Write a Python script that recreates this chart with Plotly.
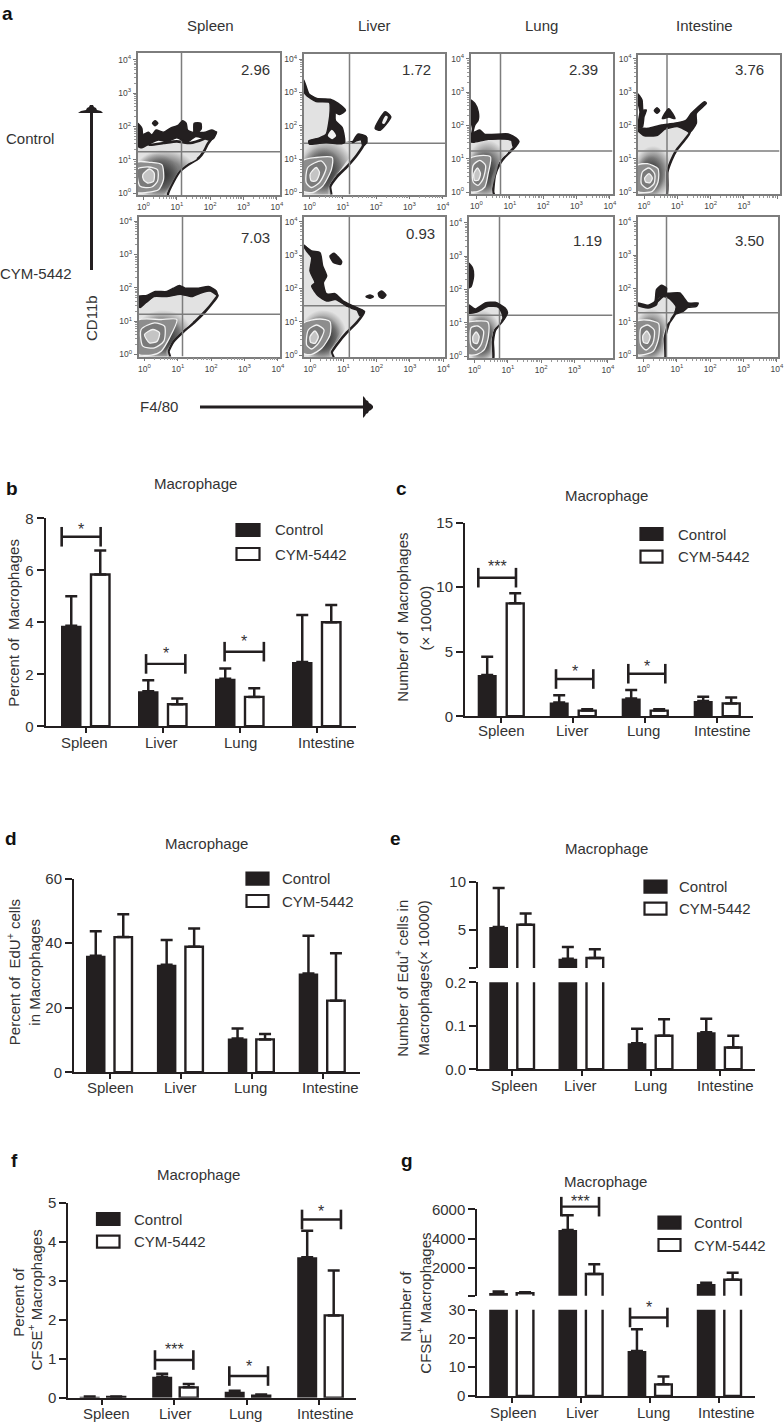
import plotly.graph_objects as go

W, H = 784, 1424
INK = "#231f20"
TXT = "#333333"
FONT = "Liberation Sans, Arial, sans-serif"

CATEGORIES = ["Spleen", "Liver", "Lung", "Intestine"]
SERIES = ["Control", "CYM-5442"]
TICK_VALUES = [0, 1, 2, 3, 4]
TICK_LABELS = ["10<sup>0</sup>", "10<sup>1</sup>", "10<sup>2</sup>", "10<sup>3</sup>", "10<sup>4</sup>"]

# ---- bar values (mean and top of the error bar) ----
B_CTRL = [3.87, 1.35, 1.83, 2.47]
B_CTRL_TOP = [5.0, 1.77, 2.22, 4.28]
B_CYM = [5.84, 0.85, 1.13, 4.0]
B_CYM_TOP = [6.76, 1.07, 1.46, 4.67]
C_CTRL = [3.2, 1.06, 1.37, 1.19]
C_CTRL_TOP = [4.62, 1.63, 2.04, 1.52]
C_CYM = [8.75, 0.44, 0.44, 1.0]
C_CYM_TOP = [9.53, 0.54, 0.54, 1.45]
D_CTRL = [36.1, 33.3, 10.5, 30.6]
D_CTRL_TOP = [43.7, 41.0, 13.6, 42.3]
D_CYM = [41.9, 38.9, 10.2, 22.2]
D_CYM_TOP = [49.0, 44.6, 11.9, 36.9]
E_CTRL = [5.31, 2.03, 0.06, 0.085]
E_CTRL_TOP = [9.34, 3.24, 0.093, 0.116]
E_CYM = [5.55, 2.1, 0.077, 0.05]
E_CYM_TOP = [6.72, 3.0, 0.115, 0.077]
F_CTRL = [0.02, 0.54, 0.15, 3.6]
F_CTRL_TOP = [0.03, 0.615, 0.18, 4.28]
F_CYM = [0.02, 0.265, 0.05, 2.11]
F_CYM_TOP = [0.03, 0.35, 0.08, 3.26]
G_CTRL = [300, 4590, 15.6, 910]
G_CTRL_TOP = [390, 5590, 23.2, 1000]
G_CYM = [290, 1590, 4.05, 1200]
G_CYM_TOP = [340, 2250, 6.8, 1680]

# ---- flow gates and percentages ----
FLOW_PERCENT = ["2.96", "1.72", "2.39", "3.76", "7.03", "0.93", "1.19", "3.50"]
GATE_X = [1.14, 1.20, 0.72, 0.69, 1.14, 1.18, 0.75, 0.69]
GATE_Y = [1.24, 1.48, 1.23, 1.23, 1.21, 1.48, 1.22, 1.27]

# ---- flow contours, in decades ----
SPC_BODY = [(-.2,1.55),(.2,1.45),(.6,1.5),(1.0,1.55),(1.4,1.5),(1.8,1.62),(2.18,1.82),(2.05,1.64),(1.92,1.46),(1.82,1.26),(1.65,1.04),(1.35,.86),(1.10,.66),(.90,.34),(.73,-.03),(.73,-.12),(-.2,-.12)]
SPC_MID = [(-.2,1.24),(1.0,1.24),(1.5,1.15),(1.6,1.03),(1.33,.88),(1.07,.66),(.87,.33),(.7,-.03),(.7,-.12),(-.2,-.12)]
SPC_DARK = [(-.2,1.15),(.8,1.1),(1.05,.95),(1.0,.6),(.7,.1),(.55,-.12),(-.2,-.12)]
SPC_RINGS = [[(-.2,.92),(.2,.92),(.55,.85),(.6,.4),(.45,.1),(.1,.02),(-.2,.02)],
             [(-.18,.72),(.15,.78),(.42,.7),(.42,.35),(.25,.18),(-.1,.2)],
             [(-.02,.55),(.18,.72),(.32,.6),(.3,.35),(.12,.3),(0,.4)]]
SPC_BLACK = [[(-.18,2.09),(-.05,1.94),(-.02,1.76),(.15,1.82),(.25,1.74),(.38,1.89),(.6,1.82),(.8,1.94),(1.05,2.04),(1.17,2.17),(1.28,2.09),(1.32,1.89),(1.5,1.82),(1.52,2.09),(1.72,2.09),(1.73,1.92),(1.65,1.82),(1.85,1.82),(2.05,1.89),(2.18,1.82),(2.10,1.64),(1.95,1.59),(1.75,1.66),(1.55,1.69),(1.30,1.52),(1.0,1.66),(.7,1.54),(.45,1.59),(.2,1.49),(-.05,1.36),(-.18,1.41)],
             [(.27,2.09),(.35,2.17),(.43,2.09),(.35,2.02)]]
SPC_HOLES = []

LVC_BODY = [(-.2,3.4),(-.03,2.94),(.22,2.77),(.62,2.74),(.75,2.4),(.7,2.0),(.55,1.6),(.2,1.52),(1.32,1.52),(1.47,1.72),(1.7,1.64),(1.62,1.42),(1.42,1.12),(1.12,.77),(.82,.47),(.62,.17),(.65,-.12),(-.2,-.12)]
LVC_MID = [(-.2,1.48),(1.3,1.48),(1.3,1.2),(1.05,.85),(.8,.5),(.6,.2),(.62,-.12),(-.2,-.12)]
LVC_DARK = [(-.2,1.3),(.9,1.25),(1.0,.9),(.75,.5),(.55,.1),(.55,-.12),(-.2,-.12)]
LVC_RINGS = [[(-.2,.95),(.2,1.05),(.68,1.05),(.66,.7),(.4,.2),(.1,.0),(-.2,.05)],
             [(-.05,.75),(.35,.95),(.5,.75),(.3,.3),(.05,.15),(-.1,.3)],
             [(.02,.55),(.2,.75),(.3,.6),(.2,.35),(.05,.35)]]
LVC_BLACK = [[(-.2,3.4),(-.05,2.98),(.22,2.82),(.62,2.8),(.85,2.68),(1.08,2.46),(.9,2.34),(.76,2.4),(.78,2.15),(.98,1.95),(1.05,1.5),(.9,1.46),(.5,1.5),(0,1.45),(-.02,1.55),(.3,1.64),(.5,1.75),(.58,2.1),(.62,2.45),(.6,2.7),(.2,2.73),(-.08,2.9),(-.2,3.1)],
             [(1.3,1.5),(1.45,1.75),(1.7,1.68),(1.72,1.5),(1.6,1.4),(1.55,1.58),(1.4,1.55)],
             [(1.97,1.92),(2.27,2.42),(2.44,2.27),(2.12,1.87)]]
LVC_HOLES = [[(.55,1.7),(.67,1.88),(.8,1.7),(.68,1.6)], [(2.18,2.08),(2.28,2.3),(2.35,2.27),(2.25,2.06)]]

LUC_BODY = [(-.2,1.6),(.4,1.6),(.85,1.62),(1.25,1.5),(1.1,1.3),(.85,1.05),(.7,.85),(.55,.5),(.5,.0),(.53,-.12),(-.2,-.12)]
LUC_MID = [(-.2,1.5),(.8,1.45),(.95,1.2),(.7,.95),(.6,.6),(.47,.1),(.47,-.12),(-.2,-.12)]
LUC_DARK = [(-.2,1.25),(.65,1.2),(.6,.85),(.45,.4),(.42,-.12),(-.2,-.12)]
LUC_RINGS = [[(-.2,1.0),(.2,1.1),(.42,1.05),(.35,.55),(.25,.15),(.05,.02),(-.2,.02)],
             [(-.1,.8),(.1,.95),(.27,.8),(.2,.4),(.05,.2),(-.1,.3)],
             [(-.08,.55),(.03,.72),(.12,.55),(.05,.35),(-.06,.35)]]
LUC_BLACK = [[(-.18,2.76),(-.05,2.66),(.05,2.41),(.05,2.16),(-.05,2.01),(-.1,1.79),(.1,1.86),(.25,1.73),(.95,1.74),(1.2,1.61),(1.27,1.51),(1.1,1.36),(1.05,1.56),(.85,1.59),(.35,1.58),(-.1,1.49),(-.18,1.51),(-.12,1.9),(-.18,2.2)]]
LUC_HOLES = []

INC_BODY = [(-.2,1.85),(.02,1.7),(.4,1.72),(.62,1.9),(1.0,1.98),(1.37,1.79),(1.17,1.5),(.97,1.25),(.82,.95),(.7,.6),(.67,-.12),(-.2,-.12)]
INC_MID = [(-.2,1.3),(.85,1.3),(.75,.95),(.65,.6),(.62,-.12),(-.2,-.12)]
INC_DARK = [(-.2,1.05),(.55,1.05),(.58,.6),(.55,-.12),(-.2,-.12)]
INC_RINGS = [[(-.2,.8),(.1,.85),(.42,.7),(.42,.3),(.25,.02),(-.2,.02)],
             [(-.05,.6),(.15,.72),(.32,.55),(.3,.25),(.1,.1),(-.08,.25)],
             [(.02,.42),(.15,.55),(.25,.42),(.18,.28),(.05,.3)]]
INC_BLACK = [[(-.18,1.91),(.12,1.91),(.52,2.01),(.92,2.06),(1.27,2.16),(1.42,2.36),(1.82,2.71),(1.87,2.66),(1.57,2.36),(1.57,2.06),(1.37,1.79),(1.22,1.91),(1.02,2.01),(.62,1.93),(.37,1.73),(.02,1.71),(-.18,1.86)],
             [(-.2,2.96),(-.06,2.76),(-.03,2.46),(.07,2.46),(0,2.26),(-.05,1.95),(-.18,1.95),(-.12,2.4),(-.18,2.7)],
             [(.31,2.44),(.39,2.53),(.47,2.44),(.39,2.36)],
             [(.55,2.2),(.74,2.5),(.93,2.2),(.75,2.25)]]
INC_HOLES = []

SPT_BODY = [(-.2,1.5),(.07,1.6),(.32,1.8),(.67,1.8),(1.07,1.9),(1.42,1.85),(1.92,1.95),(2.19,1.77),(2.07,1.59),(1.82,1.29),(1.52,.99),(1.17,.69),(.87,.39),(.72,.09),(.77,-.12),(-.2,-.12)]
SPT_MID = [(-.2,1.25),(1.3,1.22),(1.45,1.0),(1.15,.72),(.85,.42),(.7,.1),(.74,-.12),(-.2,-.12)]
SPT_DARK = [(-.2,1.05),(1.05,1.1),(1.2,.78),(.9,.45),(.65,.1),(.68,-.12),(-.2,-.12)]
SPT_RINGS = [[(-.2,1.02),(.5,1.05),(.97,1.05),(.75,.5),(.5,.1),(.2,-.02),(-.2,.02)],
             [(-.1,.75),(.3,.95),(.6,.85),(.58,.4),(.3,.2),(-.05,.25)],
             [(.0,.6),(.25,.75),(.45,.65),(.38,.4),(.15,.35)]]
SPT_BLACK = [[(-.18,1.74),(.07,1.77),(.32,1.89),(.67,1.89),(.87,1.99),(1.05,2.07),(1.22,1.99),(1.39,1.99),(1.62,1.99),(1.92,2.04),(2.15,1.91),(2.19,1.77),(2.02,1.91),(1.67,1.84),(1.42,1.74),(1.07,1.81),(.67,1.74),(.27,1.74),(.02,1.54),(-.13,1.41),(-.18,1.44)]]
SPT_HOLES = []

LVT_BODY = [(-.2,3.29),(.05,3.0),(.2,2.5),(.35,1.9),(.75,1.7),(1.3,1.4),(1.62,1.3),(1.4,.97),(1.1,.67),(.85,.37),(.65,.07),(.72,-.12),(-.2,-.12)]
LVT_MID = [(-.2,1.3),(1.0,1.2),(1.1,.9),(.85,.45),(.62,.12),(.68,-.12),(-.2,-.12)]
LVT_DARK = [(-.2,1.15),(.75,1.1),(.95,.85),(.75,.4),(.58,.1),(.6,-.12),(-.2,-.12)]
LVT_RINGS = [[(-.2,.95),(.3,1.08),(.6,1.0),(.6,.6),(.35,.2),(.05,.02),(-.2,.05)],
             [(-.05,.75),(.2,.9),(.42,.75),(.25,.35),(.05,.18),(-.1,.3)],
             [(.0,.55),(.15,.72),(.25,.55),(.15,.35),(.02,.38)]]
LVT_BLACK = [[(-.2,3.29),(.05,3.12),(.3,3.07),(.38,2.67),(.5,2.37),(.4,2.17),(.5,1.82),(.75,1.84),(1.0,1.62),(1.3,1.47),(1.6,1.32),(1.5,1.17),(1.4,1.37),(1.1,1.47),(.8,1.67),(.5,1.62),(.25,1.77),(.05,2.07),(.15,2.17),(0,2.52),(.05,2.92),(-.1,3.12)],
             [(.6,2.97),(.72,3.05),(.95,2.8),(.92,2.72),(.7,2.78)],
             [(1.68,1.75),(1.8,1.8),(1.9,1.75),(1.8,1.7)],
             [(2.05,1.85),(2.15,1.92),(2.28,1.8),(2.18,1.7),(2.08,1.75)]]
LVT_HOLES = []

LUT_BODY = [(-.2,1.4),(.05,1.35),(.4,1.55),(.72,1.52),(.95,1.3),(.85,1.08),(.62,.78),(.55,.43),(.55,-.12),(-.2,-.12)]
LUT_MID = [(-.2,1.3),(.7,1.3),(.8,1.05),(.58,.78),(.5,.4),(.5,-.12),(-.2,-.12)]
LUT_DARK = [(-.2,1.15),(.6,1.1),(.6,.8),(.45,.4),(.45,-.12),(-.2,-.12)]
LUT_RINGS = [[(-.2,1.0),(.05,1.05),(.4,1.02),(.42,.6),(.3,.2),(.08,.05),(-.2,.05)],
             [(-.1,.85),(.1,.9),(.27,.75),(.2,.35),(.05,.18),(-.1,.3)],
             [(-.05,.58),(.05,.72),(.14,.58),(.08,.38),(-.03,.4)]]
LUT_BLACK = [[(-.18,1.54),(.02,1.41),(.32,1.59),(.62,1.61),(.92,1.44),(.99,1.29),(.87,1.09),(.84,1.24),(.72,1.46),(.42,1.49),(.07,1.32),(-.18,1.29)],
             [(-.18,2.79),(-.06,2.64),(-.03,2.39),(-.1,2.09),(-.18,2.04)]]
LUT_HOLES = []

INT_BODY = [(-.2,1.5),(.14,1.45),(.4,1.6),(.6,1.77),(.8,1.7),(1.0,1.45),(.94,1.22),(.76,.95),(.64,.5),(.64,-.12),(-.2,-.12)]
INT_MID = [(-.2,1.3),(.75,1.3),(.8,1.05),(.68,.9),(.58,.5),(.58,-.12),(-.2,-.12)]
INT_DARK = [(-.2,1.1),(.55,1.1),(.6,.85),(.52,.4),(.52,-.12),(-.2,-.12)]
INT_RINGS = [[(-.2,1.0),(.1,1.05),(.45,.95),(.45,.5),(.3,.12),(.05,.02),(-.2,.02)],
             [(-.08,.8),(.12,.9),(.32,.75),(.28,.35),(.08,.15),(-.08,.3)],
             [(-.02,.58),(.1,.72),(.2,.55),(.12,.35),(.0,.38)]]
INT_BLACK = [[(-.18,1.56),(.14,1.49),(.34,1.61),(.39,1.96),(.54,2.09),(.69,2.01),(.69,1.86),(1.09,1.86),(1.34,1.56),(1.64,1.56),(1.59,1.46),(1.34,1.43),(1.19,1.31),(.94,1.23),(.99,1.46),(.79,1.73),(.59,1.79),(.44,1.71),(.39,1.51),(.14,1.41),(-.18,1.49)]]
INT_HOLES = []

FLOW_POLYS = [
    (SPC_BODY, SPC_MID, SPC_DARK, SPC_RINGS, SPC_BLACK, SPC_HOLES),
    (LVC_BODY, LVC_MID, LVC_DARK, LVC_RINGS, LVC_BLACK, LVC_HOLES),
    (LUC_BODY, LUC_MID, LUC_DARK, LUC_RINGS, LUC_BLACK, LUC_HOLES),
    (INC_BODY, INC_MID, INC_DARK, INC_RINGS, INC_BLACK, INC_HOLES),
    (SPT_BODY, SPT_MID, SPT_DARK, SPT_RINGS, SPT_BLACK, SPT_HOLES),
    (LVT_BODY, LVT_MID, LVT_DARK, LVT_RINGS, LVT_BLACK, LVT_HOLES),
    (LUT_BODY, LUT_MID, LUT_DARK, LUT_RINGS, LUT_BLACK, LUT_HOLES),
    (INT_BODY, INT_MID, INT_DARK, INT_RINGS, INT_BLACK, INT_HOLES),
]

# frame left, right, top, bottom (pixels)
FLOW_FRAMES = [(137.5, 280, 52.5, 195), (303.5, 445, 54, 194.5), (470.5, 612.5, 53.5, 194), (638, 779.5, 54.5, 194),
               (138.5, 280, 216.5, 356.5), (304, 445, 216.5, 357), (468.5, 612.5, 216.5, 358), (637.5, 778, 216.5, 357)]
FLOW_TEXT_XY = [(255, 69.5), (416.7, 69.5), (583, 69), (749.3, 69), (255.5, 237.3), (420, 234), (587.7, 240.7), (749.3, 240.7)]


def px(x):
    return x / W


def py(y):
    return 1 - y / H


traces, annots, shapes, layout = [], [], [], {}
axis_count = [0]


def note(text, x, y, size=15, color=TXT, angle=0, bold=False):
    annots.append(dict(text=f"<b>{text}</b>" if bold else text, x=px(x), y=py(y), xref="paper", yref="paper",
                       showarrow=False, xanchor="center", yanchor="middle", textangle=angle,
                       font=dict(size=size, color=color, family=FONT)))


def new_axes(x0, x1, y_top, y_bot, xaxis, yaxis):
    axis_count[0] += 1
    n = axis_count[0]
    s = "" if n == 1 else str(n)
    layout["xaxis" + s] = dict(domain=[px(x0), px(x1)], anchor="y" + s, fixedrange=True, showgrid=False, zeroline=False,
                               automargin=False, **xaxis)
    layout["yaxis" + s] = dict(domain=[py(y_bot), py(y_top)], anchor="x" + s, fixedrange=True, showgrid=False, zeroline=False,
                               automargin=False, **yaxis)
    return "x" + s, "y" + s


def poly(xr, yr, pts, fill, line=None, width=0, smooth=0.7, gradient=None):
    closed = list(pts) + [pts[0]]
    extra = dict(fillgradient=dict(type="radial", colorscale=gradient)) if gradient else dict(fillcolor=fill)
    traces.append(go.Scatter(x=[p[0] for p in closed], y=[p[1] for p in closed], xaxis=xr, yaxis=yr, mode="lines",
                             fill="toself", hoverinfo="skip", showlegend=False,
                             line=dict(color=line or "rgba(0,0,0,0)", width=width, shape="spline", smoothing=smooth), **extra))


# ---- flow panels ----
MINOR = [k + m for k in range(4) for m in (0.30, 0.48, 0.60, 0.70, 0.78, 0.85, 0.90, 0.95)]
for i, (fr, polys) in enumerate(zip(FLOW_FRAMES, FLOW_POLYS)):
    l, r, t, b = fr
    ax = dict(showline=True, mirror=True, linecolor="#7d7d7d", linewidth=1.6, ticks="outside", ticklen=3, tickwidth=1,
              tickcolor="#777777", tickvals=TICK_VALUES, ticktext=TICK_LABELS,
              tickfont=dict(size=8.5, color="#444444", family=FONT),
              minor=dict(tickvals=MINOR, ticks="outside", ticklen=2, tickcolor="#999999", tickwidth=1))
    xr, yr = new_axes(l, r, t, b, dict(range=[-0.18, -0.18 + (r - l) / 33.33], **ax),
                      dict(range=[-0.06, -0.06 + (b - t) / 33.33], **ax))
    body, mid, dark, rings, black, holes = polys
    poly(xr, yr, body, "#e2e2e2", INK, 2.6, 0.5)
    poly(xr, yr, mid, "#b5b5b5", gradient=[[0, "rgb(75,75,75)"], [0.55, "rgb(130,130,130)"], [1, "rgb(226,226,226)"]])
    poly(xr, yr, dark, "#5c5c5c", gradient=[[0, "rgba(40,40,40,0.95)"], [1, "rgba(40,40,40,0)"]])
    for ring, shade in zip(rings, ("#8d8d8d", "#7a7a7a", "#c4c4c4")):
        poly(xr, yr, ring, shade, "#f2f2f2", 1.3)
    x_hi, y_hi = -0.18 + (r - l) / 33.33, -0.06 + (b - t) / 33.33
    for gx, gy in (([GATE_X[i], GATE_X[i]], [-0.06, y_hi]), ([-0.18, x_hi], [GATE_Y[i], GATE_Y[i]])):
        traces.append(go.Scatter(x=gx, y=gy, xaxis=xr, yaxis=yr, mode="lines", showlegend=False, hoverinfo="skip",
                                 line=dict(color="#7d7d7d", width=1.5)))
    for piece in black:
        poly(xr, yr, piece, INK, INK, 1.5, 0.6)
    for piece in holes:
        poly(xr, yr, piece, "#f2f2f2")
    note(FLOW_PERCENT[i], *FLOW_TEXT_XY[i])

for name, x in zip(CATEGORIES, (210, 374, 541, 704)):
    note(name, x, 26)
note("Control", 29.5, 138)
note("CYM-5442", 36, 274)
note("CD11b", 92, 318, angle=-90)
note("F4/80", 159, 406)


def path_px(points):
    return "M" + "L".join(f"{px(a):.5f},{py(c):.5f}" for a, c in points) + "Z"


for pts in ([(90, 270), (93, 270), (93, 113), (90, 113)],
            [(78, 113), (103, 113), (101, 111), (97, 110), (96, 108), (94, 107), (93, 105), (90, 105), (89, 107), (87, 108), (86, 110), (81, 111)],
            [(200, 405.5), (365, 405.5), (365, 408.5), (200, 408.5)],
            [(363, 396), (363, 418), (365, 416), (366, 414), (368, 413), (369, 411), (371, 410), (373, 408), (373, 406), (371, 404), (369, 403), (368, 401), (366, 400), (365, 398)]):
    shapes.append(dict(type="path", path=path_px(pts), xref="paper", yref="paper", fillcolor=INK, line=dict(width=0)))

for letter, x, y in (("a", 7, 13), ("b", 12, 488), ("c", 401, 488), ("d", 11, 838), ("e", 396, 838), ("f", 14, 1160), ("g", 407, 1160)):
    note(letter, x, y, size=19, color="#111111", bold=True)


# ---- bar panels ----
def bars(xr, yr, step, ctrl, ctrl_top, cym, cym_top, w, off_c, off_m, floor=None):
    # a bar that ends under the axis break belongs only to the lower part of the axis
    def kept(values):
        return [v if floor is None or v >= floor else None for v in values]
    traces.append(go.Bar(name=SERIES[0], x=[0, 1, 2, 3], y=kept(ctrl), xaxis=xr, yaxis=yr, width=w / step, offset=off_c / step,
                         marker=dict(color=INK, line=dict(width=0)), showlegend=False, hoverinfo="skip",
                         error_y=dict(type="data", symmetric=False, array=[a - v for a, v in zip(ctrl_top, ctrl)],
                                      arrayminus=[0] * 4, color=INK, thickness=2.5, width=6)))
    traces.append(go.Bar(name=SERIES[1], x=[0, 1, 2, 3], y=kept(cym), xaxis=xr, yaxis=yr, width=(w - 2) / step, offset=(off_m + 1) / step,
                         marker=dict(color="white", line=dict(color=INK, width=2.4)), showlegend=False, hoverinfo="skip",
                         error_y=dict(type="data", symmetric=False, array=[a - v for a, v in zip(cym_top, cym)],
                                      arrayminus=[0] * 4, color=INK, thickness=2.5, width=6)))


def bracket(xr, yr, x0, x1, y, stars, shift=8):
    traces.append(go.Scatter(x=[x0, x1], y=[y, y], xaxis=xr, yaxis=yr, mode="lines+markers", cliponaxis=False,
                             showlegend=False, hoverinfo="skip", line=dict(color=INK, width=2.4),
                             marker=dict(symbol="line-ns", size=14, line=dict(color=INK, width=2.6), color=INK)))
    annots.append(dict(text=stars, x=(x0 + x1) / 2, y=y, xref=xr, yref=yr, showarrow=False, yshift=shift,
                       xanchor="center", yanchor="middle", font=dict(size=16, color=TXT, family=FONT)))


def key(x0, x1, y1, y2, tx):
    for y, fill, label in ((y1, INK, SERIES[0]), (y2, "white", SERIES[1])):
        shapes.append(dict(type="rect", xref="paper", yref="paper", x0=px(x0), x1=px(x1), y0=py(y - 6), y1=py(y + 6),
                           fillcolor=fill, line=dict(color=INK, width=2.2)))
        annots.append(dict(text=label, x=px(tx), y=py(y), xref="paper", yref="paper", showarrow=False, xanchor="left",
                           yanchor="middle", font=dict(size=15, color=TXT, family=FONT)))


def cat_labels(xr, y, label_px, tick0, step):
    for i, (name, lx) in enumerate(zip(CATEGORIES, label_px)):
        annots.append(dict(text=name, x=(lx - tick0) / step, y=py(y), xref=xr, yref="paper", showarrow=False,
                           xanchor="center", yanchor="middle", font=dict(size=15, color=TXT, family=FONT)))


def x_ax(x0, x1, tick0, step, visible=True):
    d = dict(range=[(x0 - tick0) / step, (x1 - tick0) / step], tickvals=[0, 1, 2, 3], showticklabels=False)
    if visible:
        d.update(showline=True, linecolor=INK, linewidth=2, ticks="outside", ticklen=5, tickwidth=2, tickcolor=INK)
    else:
        d.update(visible=False)
    return d


def y_ax(lo, hi, vals, text):
    return dict(range=[lo, hi], tickvals=vals, ticktext=text, showline=True, linecolor=INK, linewidth=2, ticks="outside",
                ticklen=7, tickwidth=2, tickcolor=INK, tickfont=dict(size=15, color=TXT, family=FONT))


# b
xr, yr = new_axes(45.5, 356, 518.3, 726.3, x_ax(45.5, 356, 86, 77), y_ax(0, 8, [0, 2, 4, 6, 8], ["0", "2", "4", "6", "8"]))
bars(xr, yr, 77, B_CTRL, B_CTRL_TOP, B_CYM, B_CYM_TOP, 20.5, -25, 4)
bracket(xr, yr, -0.316, 0.19, 7.29, "*", 7)
bracket(xr, yr, 0.78, 1.29, 2.4, "*", 10)
bracket(xr, yr, 1.80, 2.31, 2.87, "*", 10)
cat_labels(xr, 742.7, (84, 161.5, 240, 326), 86, 77)
note("Macrophage", 195.7, 483)
note("Percent of\u00a0\u00a0Macrophages", 14, 622.7, angle=-90)
key(236.5, 259.5, 530, 554, 273)

# c
xr, yr = new_axes(465, 753.3, 522.7, 716.3, x_ax(465, 753.3, 501, 72), y_ax(0, 15, [0, 5, 10, 15], ["0", "5", "10", "15"]))
bars(xr, yr, 72, C_CTRL, C_CTRL_TOP, C_CYM, C_CYM_TOP, 19, -23.3, 4.7)
bracket(xr, yr, -0.315, 0.208, 10.74, "***", 11)
bracket(xr, yr, 0.764, 1.282, 2.89, "*", 8)
bracket(xr, yr, 1.768, 2.282, 3.3, "*", 7)
cat_labels(xr, 730.5, (501.7, 572.3, 643, 722.3), 501, 72)
note("Macrophage", 606, 495)
note("Number of\u00a0\u00a0Macrophages", 403, 617.7, angle=-90)
note("(× 10000)", 425.7, 617.7, angle=-90)
key(640.5, 662.5, 534, 556.7, 675.7)

# d
xr, yr = new_axes(74, 360, 878.7, 1072.3, x_ax(74, 360, 110, 70.9), y_ax(0, 60, [0, 20, 40, 60], ["0", "20", "40", "60"]))
bars(xr, yr, 70.9, D_CTRL, D_CTRL_TOP, D_CYM, D_CYM_TOP, 19.5, -24, 3.5)
cat_labels(xr, 1087.5, (110.7, 180, 250, 330), 110, 70.9)
note("Macrophage", 206, 844)
note("Percent of\u00a0\u00a0EdU<sup>+</sup> cells", 13.5, 972.7, angle=-90)
note("in Macrophages", 35, 972.7, angle=-90)
key(246.5, 268.5, 878.7, 901, 280)

# e (broken axis)
xr, yr = new_axes(478, 755, 881.7, 968, x_ax(478, 755, 512.3, 69.2, visible=False), y_ax(1.07, 10, [1.07, 5, 10], ["", "5", "10"]))
bars(xr, yr, 69.2, E_CTRL, E_CTRL_TOP, E_CYM, E_CYM_TOP, 18.7, -23, 4, floor=1.07)
xr, yr = new_axes(478, 755, 982.3, 1069.3, x_ax(478, 755, 512.3, 69.2), y_ax(0, 0.2, [0, 0.1, 0.2], ["0.0", "0.1", "0.2"]))
bars(xr, yr, 69.2, E_CTRL, E_CTRL_TOP, E_CYM, E_CYM_TOP, 18.7, -23, 4)
cat_labels(xr, 1085, (514, 580.7, 650, 725.3), 512.3, 69.2)
note("Macrophage", 606.7, 848.3)
note("Number of Edu<sup>+</sup> cells in", 401.5, 978.3, angle=-90)
note("Macrophages(× 10000)", 424, 977.7, angle=-90)
key(644.5, 666.5, 886.7, 908.7, 676.7)

# f
xr, yr = new_axes(68.3, 356, 1202.7, 1397.7, x_ax(68.3, 356, 101.7, 72.5), y_ax(0, 5, [0, 1, 2, 3, 4, 5], ["0", "1", "2", "3", "4", "5"]))
bars(xr, yr, 72.5, F_CTRL, F_CTRL_TOP, F_CYM, F_CYM_TOP, 20, -22, 4.5)
bracket(xr, yr, 0.735, 1.264, 0.966, "***", 11)
bracket(xr, yr, 1.76, 2.294, 0.556, "*", 10)
bracket(xr, yr, 2.763, 3.30, 4.57, "*", 8)
cat_labels(xr, 1413.5, (106, 175, 245, 325), 101.7, 72.5)
note("Macrophage", 198.3, 1174.3)
note("Percent of", 19, 1302.7, angle=-90)
note("CFSE<sup>+</sup> Macrophages", 34.5, 1300, angle=-90)
key(97, 119.5, 1219, 1241.7, 131.7)

# g (broken axis)
xr, yr = new_axes(477.3, 755, 1209.3, 1295.7, x_ax(477.3, 755, 511.7, 69.2, visible=False),
                  y_ax(112, 6000, [112, 2000, 4000, 6000], ["", "2000", "4000", "6000"]))
bars(xr, yr, 69.2, G_CTRL, G_CTRL_TOP, G_CYM, G_CYM_TOP, 18.7, -22.5, 4, floor=112)
# invisible overlay with the same scale, tall enough to hold the bracket above the 6000 tick
xr_top, yr_top = new_axes(477.3, 755, 1185, 1295.7, x_ax(477.3, 755, 511.7, 69.2, visible=False),
                          dict(range=[112, 6000 + 24.3 / (86.4 / 5888)], visible=False))
bracket(xr_top, yr_top, 0.717, 1.262, 6180, "***", 5)
xr, yr = new_axes(477.3, 755, 1309.7, 1396, x_ax(477.3, 755, 511.7, 69.2), y_ax(0, 30, [0, 10, 20, 30], ["0", "10", "20", "30"]))
bars(xr, yr, 69.2, G_CTRL, G_CTRL_TOP, G_CYM, G_CYM_TOP, 18.7, -22.5, 4)
bracket(xr, yr, 1.71, 2.25, 27.3, "*", 10)
cat_labels(xr, 1412, (513, 582.7, 653, 726.7), 511.7, 69.2)
note("Macrophage", 605.7, 1181.7)
note("Number of", 406, 1306.7, angle=-90)
note("CFSE<sup>+</sup> Macrophages", 424, 1303.7, angle=-90)
key(658.5, 680.5, 1222.7, 1245, 691.7)

fig = go.Figure(data=traces)
fig.update_layout(template="none", width=W, height=H, margin=dict(l=0, r=0, t=0, b=0, autoexpand=False), paper_bgcolor="white",
                  plot_bgcolor="rgba(0,0,0,0)", showlegend=False, barmode="overlay", annotations=annots, shapes=shapes,
                  font=dict(family=FONT, color=TXT), **layout)
fig.write_html("out.html", post_script="document.body.style.margin='0';", config=dict(displayModeBar=False))
